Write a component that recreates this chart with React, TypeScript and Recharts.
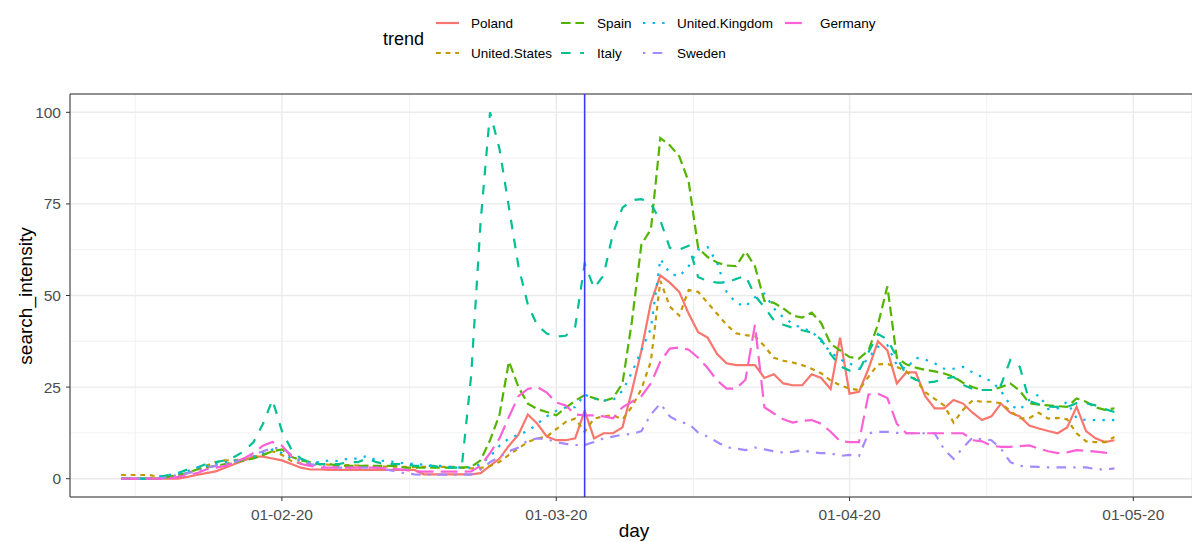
import { LineChart, Line, XAxis, YAxis, CartesianGrid, ReferenceLine } from "recharts";

// daily Google-trends style values, 15 Jan 2020 .. 29 Apr 2020
const startDate = "2020-01-15";

const poland = [
  0, 0, 0, 0, 0, 0, 0, 0.5, 1, 1.5,
  2, 3, 4, 5, 6, 6, 5.5, 5, 4, 3,
  2.5, 2.5, 2.4, 2.4, 2.4, 2.4, 2.4, 2.4, 2.4, 2.4,
  2.4, 2.4, 1.2, 1.2, 1.2, 1.2, 1.2, 1.2, 1.5, 3.5,
  5.5, 9, 12, 17.5, 15, 11.5, 10.5, 10.5, 11, 18.5,
  11, 12.4, 12.4, 14, 24, 35, 48, 55.5, 53.5, 51,
  45, 40, 38.5, 34, 31.5, 31, 31, 31, 27.5, 28.5,
  26, 25.5, 25.5, 28.5, 27.5, 24.5, 38.5, 23.2, 23.7, 30,
  37.5, 35, 26, 29, 29, 22.5, 19.2, 19.2, 21.5, 20.5,
  18, 16, 17, 20.5, 18, 17, 14.5, 13.7, 13, 12.4,
  14, 19.6, 13, 11, 10, 10.5,
];

const unitedStates = [
  1, 1, 1, 1, 0.5, 0.5, 1, 1.5, 2.5, 3.5,
  4.5, 5, 5, 5.5, 6, 6.5, 7.5, 6.5, 4.8, 4.2,
  4, 4, 3.8, 3.8, 3.7, 3.6, 3.5, 3.4, 3.3, 3.3,
  3.2, 3.2, 3.2, 3.2, 3.2, 3.2, 3, 2.8, 2.9, 3.5,
  4.6, 6.5, 8.3, 10, 11, 11.5, 13.5, 15.5, 16.4, 12.8,
  16.4, 17, 17.3, 16.2, 19.6, 24.5, 32, 54, 47, 44.5,
  51.5, 51, 48, 45, 42, 39.7, 39.2, 38.9, 36.2, 33,
  32.2, 31.7, 31, 30, 28.8, 26.8, 25.5, 24.6, 24.2, 27.8,
  31.2, 31.3, 30.5, 29.3, 27, 23.6, 21.8, 20, 15.3, 18.8,
  21.4, 21, 21, 20.6, 18.5, 16.5, 16.5, 18, 16.4, 16.6,
  16.2, 12.4, 10.2, 10, 10, 11.4,
];

const spain = [
  0, 0, 0, 0, 0, 0.5, 1, 1.5, 2.5, 3,
  3.5, 4, 4.5, 5, 5.5, 6.5, 7.5, 8, 6, 5,
  4.5, 4, 4, 3.5, 3.5, 3.5, 3.5, 3.5, 3.5, 3.5,
  3, 3, 3, 3, 3, 3, 3, 3.2, 5, 10.5,
  17.5, 32, 25, 20.5, 19, 18.2, 17.3, 19.3, 21.3, 22.8,
  22, 21.2, 22, 26, 43, 64, 68, 93, 91, 88,
  81, 63, 60.5, 59, 58.2, 58, 62, 58, 48.5, 48,
  46.5, 44.5, 44, 45.3, 42.5, 36.8, 35, 33.2, 32.8, 35,
  42, 52.5, 33, 31.2, 30.3, 29.7, 29.3, 28.7, 27.8, 26.2,
  25, 24.2, 24.2, 25, 26, 24, 20.6, 20.2, 20, 19.8,
  19.6, 21.9, 21, 19.5, 18.8, 19.2,
];

const italy = [
  0, 0, 0, 0, 0.5, 1, 1.5, 2.5, 3, 4,
  4.5, 5, 6, 7.5, 10, 15, 21.5, 13, 8, 5.5,
  4.5, 4, 4, 4, 4.5, 4.5, 5.5, 4.5, 4, 4,
  4, 3.5, 3.5, 3.5, 3, 3, 3, 28, 70, 100,
  90, 74, 58, 47.5, 41.8, 39.6, 38.8, 39, 41.5, 58.7,
  52, 55.5, 67, 74, 76, 76.3, 75, 70.5, 63, 62.5,
  63.6, 55, 54, 53.5, 53.5, 54.5, 55.4, 50, 46.8, 43.2,
  42, 41.2, 40.5, 39.9, 38, 34, 30.7, 29.5, 29.5, 34.5,
  39.5, 38, 33.2, 28.3, 27, 26.2, 26.5, 27.2, 27.8, 25.6,
  24.5, 24.2, 24.2, 25.5, 32.4, 30.5, 21.2, 20.3, 19.7, 19.6,
  19.6, 20.6, 20.6, 20, 19, 18.2,
];

const unitedKingdom = [
  0, 0, 0, 0, 0.5, 1, 1.5, 2, 3, 3.5,
  4, 4.5, 5, 5.5, 6, 7, 8, 7, 5.5, 5,
  4.5, 4.5, 5, 4.8, 5.5, 5.5, 6.2, 5, 4.8, 4.5,
  4.2, 4, 3.8, 3.5, 3.5, 3.2, 3, 3, 4, 6,
  9, 11, 12, 13, 15, 17, 18.5, 19.5, 19.5, 23,
  21.8, 21.4, 21.4, 24, 29, 35, 41, 60, 56, 55.2,
  58, 62.5, 63.2, 59, 51, 48, 47, 49.5, 50.5, 46.5,
  44, 42.3, 41, 40.3, 37.5, 34.5, 32.5, 31.5, 30, 33,
  36, 36.4, 31, 30, 33, 32.5, 31.5, 30, 30, 30.5,
  29, 27.8, 26.6, 24, 20, 18.8, 21.5, 23, 19, 19.2,
  21, 16.5, 16, 16, 16, 16,
];

const sweden = [
  0, 0, 0, 0, 0, 0.5, 1, 1.5, 2, 3,
  3.5, 4, 4.5, 5.5, 6.5, 7.5, 8.3, 8.5, 6.5, 5,
  4, 3.5, 3.2, 3, 3, 3, 3, 3, 2.5, 2,
  1.5, 1.2, 1.1, 1.1, 1.1, 1.1, 1.1, 1.1, 2.5, 4.5,
  6, 7.5, 8.5, 10.5, 11, 10.8, 10, 9.5, 9.2, 9.2,
  10, 11, 11.5, 12, 12.2, 13, 17.5, 20.5, 17, 15.5,
  15, 12.6, 11.5, 10, 8.6, 8.2, 7.8, 8.5, 8, 7.5,
  7.1, 7.3, 7.8, 7.2, 7, 6.9, 6.2, 6.5, 6.2, 12.4,
  12.8, 12.8, 12.5, 12.4, 12.4, 12.4, 12.4, 8, 5.4, 8.5,
  11.2, 10.7, 10.5, 8.2, 4.5, 3.5, 3.3, 3.2, 3.1, 3.1,
  3.1, 3.1, 3.1, 2.6, 2.5, 2.8,
];

const germany = [
  0, 0, 0, 0, 0, 0, 0.5, 1, 1.5, 2.5,
  3, 3.5, 4.5, 5.5, 7, 9, 10, 9, 6, 4,
  3.5, 3, 3, 3, 3, 3, 3, 3, 2.8, 2.6,
  2.4, 2, 1.9, 1.9, 1.9, 1.9, 1.9, 2, 3.5, 7,
  11, 16.9, 22.5, 24.5, 25, 23.5, 20.8, 20, 17.5, 17.3,
  17.3, 17, 16.5, 19.5, 21, 22.5, 26, 32, 35.5, 35.8,
  35.2, 33, 30.2, 26.8, 24.6, 24.6, 27, 42, 19.5, 17.8,
  16.2, 15.3, 15.8, 16, 15, 12.8, 10.2, 10, 10, 23,
  23.2, 22, 15, 12.4, 12.4, 12.4, 12.4, 12.4, 12.4, 12.4,
  10.5, 10.2, 9, 8.7, 8.7, 8.9, 9.1, 8.2, 7.5, 7,
  7.2, 7.8, 7.6, 7.4, 7.1, 6.9,
];

const countries = ["Poland", "United.States", "Spain", "Italy", "United.Kingdom", "Sweden", "Germany"];
const seriesValues = [poland, unitedStates, spain, italy, unitedKingdom, sweden, germany];

const tickDates = ["2020-02-01", "2020-03-01", "2020-04-01", "2020-05-01"];
const tickLabels = ["01-02-20", "01-03-20", "01-04-20", "01-05-20"];
const markerDate = "2020-03-04";

const yTicks = [0, 25, 50, 75, 100];
const yMinor = [12.5, 37.5, 62.5, 87.5];
const xMinorDates = ["2020-01-17", "2020-02-15", "2020-03-16", "2020-04-16"];

// ggplot hue palette + default linetypes (unit 2.4px)
const colors = ["#F8766D", "#C49A00", "#53B400", "#00C094", "#00B6EB", "#A58AFF", "#FB61D7"];
const dashes = [undefined, "4.8 4.8", "9.6 4.8", "9.6 9.6", "2.4 7.2", "2.4 7.2 9.6 7.2", "16.8 7.2"];

const dayOf = (s: string) => (Date.parse(s) - Date.parse(startDate)) / 86400000;
const tickDays = tickDates.map(dayOf);
const xMinor = xMinorDates.map(dayOf).map((d) => d - 0.5);

const font = "'Liberation Sans', Arial, sans-serif";
const tickStyle = { fontSize: 15.5, fill: "#4d4d4d", fontFamily: font };

const legendKeyX = [436, 561, 643, 785];
const legendTextX = [471, 597, 677, 820];
const legendRowY = [23, 53];

export default function App() {
  const data = poland.map((_, i) => {
    const row: Record<string, number> = { day: i };
    countries.forEach((c, k) => {
      row[c] = seriesValues[k][i];
    });
    return row;
  });

  return (
    <div
      style={{
        position: "absolute",
        left: 0,
        top: 0,
        width: 1192,
        height: 542,
        overflow: "hidden",
        background: "#fff",
        fontFamily: font,
      }}
    >
      <LineChart width={1192} height={542} data={data} margin={{ top: 94, right: 0, bottom: 0, left: 0 }}>
        <CartesianGrid stroke="#ededed" strokeWidth={0.8} horizontalValues={yMinor} verticalValues={xMinor} />
        <CartesianGrid stroke="#ebebeb" strokeWidth={1.4} />
        <XAxis
          dataKey="day"
          type="number"
          domain={[-5.4, 113.2]}
          allowDataOverflow
          ticks={tickDays}
          interval={0}
          tickFormatter={(v: number) => tickLabels[tickDays.indexOf(v)]}
          height={45}
          tickSize={4}
          tickMargin={8}
          stroke="#333333"
          tick={tickStyle}
        />
        <YAxis
          type="number"
          domain={[-5, 105]}
          allowDataOverflow
          ticks={yTicks}
          interval={0}
          width={70}
          tickSize={4}
          tickMargin={5}
          stroke="#333333"
          tick={tickStyle}
        />
        <ReferenceLine y={105} stroke="#333333" strokeWidth={1.2} />
        {countries.map((c, k) => (
          <Line
            key={c}
            dataKey={c}
            type="linear"
            stroke={colors[k]}
            strokeWidth={2.2}
            strokeDasharray={dashes[k]}
            strokeLinecap="butt"
            dot={false}
            activeDot={false}
            isAnimationActive={false}
          />
        ))}
        <ReferenceLine x={dayOf(markerDate)} stroke="#3a3aff" strokeWidth={1.6} />
      </LineChart>

      <svg
        width={1192}
        height={542}
        style={{ position: "absolute", left: 0, top: 0, pointerEvents: "none" }}
        fontFamily={font}
      >
        <text x={383} y={45} fontSize={18} fill="#000">
          trend
        </text>
        {countries.map((c, k) => {
          const col = Math.floor(k / 2);
          const row = k % 2;
          const y = legendRowY[row];
          return (
            <g key={c}>
              <line
                x1={legendKeyX[col]}
                x2={legendKeyX[col] + 23}
                y1={y}
                y2={y}
                stroke={colors[k]}
                strokeWidth={2.2}
                strokeDasharray={dashes[k]}
              />
              <text x={legendTextX[col]} y={y + 5} fontSize={13.5} fill="#000">
                {c}
              </text>
            </g>
          );
        })}
        <text x={634} y={537} fontSize={19} textAnchor="middle" fill="#000">
          day
        </text>
        <text x={32} y={296} fontSize={19} textAnchor="middle" fill="#000" transform="rotate(-90 32 296)">
          search_intensity
        </text>
      </svg>
    </div>
  );
}
